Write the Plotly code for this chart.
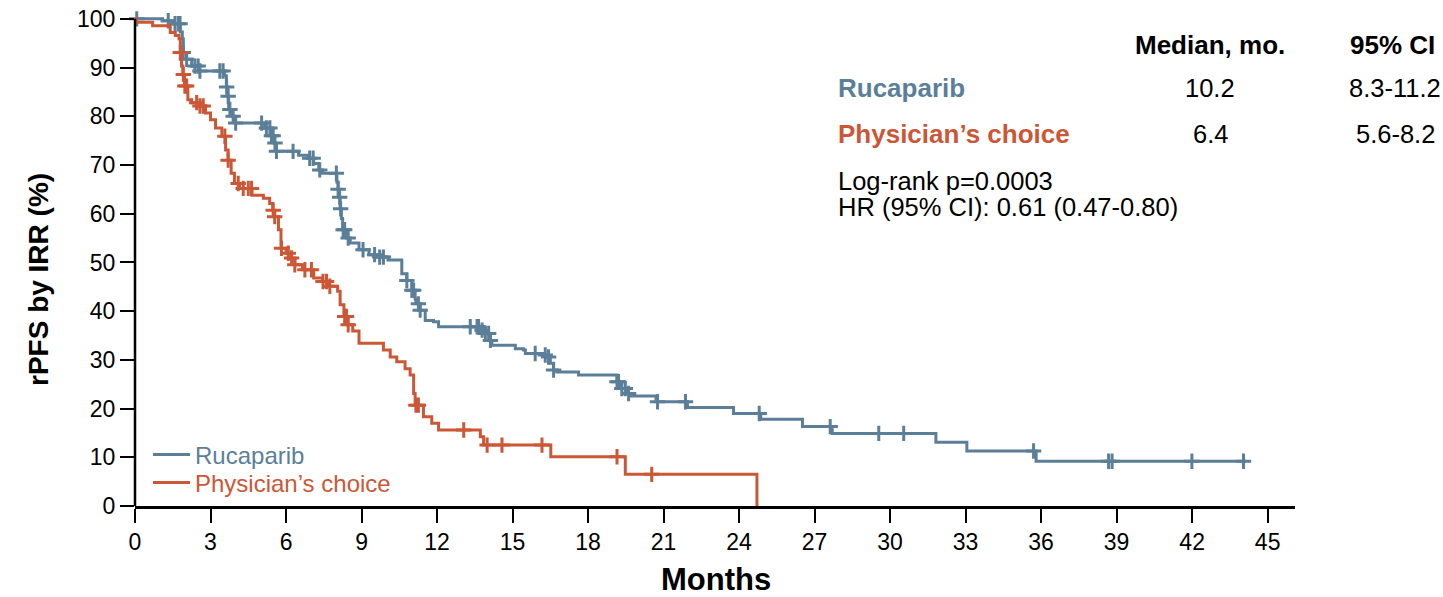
import numpy as np
import plotly.graph_objects as go

# ---------------- data ----------------
months_ticks = list(range(0, 46, 3))
pct_ticks = list(range(0, 101, 10))

# Rucaparib KM steps (time in months, survival % after step)
ruc_t = [0, 1.1, 1.45, 1.8, 1.88, 1.92, 2.05, 2.25, 2.55, 3.55, 3.63, 3.68, 3.72, 3.85, 3.97,
         5.15, 5.4, 5.5, 5.6, 6.5, 6.9, 7.1, 7.3, 7.45, 8.02, 8.07, 8.11, 8.15, 8.2, 8.25,
         8.4, 8.55, 8.9, 9.3, 9.6, 10.05, 10.6, 10.8, 11.0, 11.13, 11.16, 11.33, 11.53, 11.86,
         12.06, 13.72, 13.92, 14.12, 14.18, 15.11, 15.44, 15.51, 16.23, 16.43, 16.5, 16.63,
         16.76, 17.62, 19.15, 19.28, 19.54, 19.67, 20.7, 21.95, 23.78, 24.86, 26.52, 27.7,
         31.82, 33.05, 35.8]
ruc_s = [100, 99.6, 99.0, 97.3, 95.9, 93.1, 91.7, 90.3, 89.3, 88.3, 86.0, 84.1, 81.4, 80.0, 78.6,
         77.6, 76.0, 74.5, 72.8, 72.0, 71.4, 70.3, 69.0, 68.3, 66.5, 65.0, 63.4, 61.0, 59.0, 56.7,
         55.0, 54.0, 52.6, 51.6, 51.1, 50.5, 47.7, 46.3, 44.3, 42.5, 41.5, 40.2, 38.1, 37.8,
         36.8, 36.1, 35.4, 34.0, 33.0, 32.3, 32.0, 31.3, 31.0, 30.6, 29.3, 27.9,
         27.5, 26.9, 25.5, 24.1, 23.1, 22.6, 21.4, 20.2, 19.0, 17.8, 16.3, 14.9,
         13.1, 11.3, 9.2]
ruc_end = 44.14
ruc_cens = [0.07, 1.32, 1.59, 1.72, 1.79, 1.92, 2.05, 2.38, 2.51, 2.58, 3.37, 3.5, 3.64, 3.7,
            3.77, 3.9, 4.0, 5.03, 5.22, 5.36, 5.42, 5.49, 5.56, 5.62, 6.28, 6.94, 7.08, 7.34,
            8.0, 8.07, 8.13, 8.17, 8.27, 8.33, 8.47, 9.06, 9.52, 9.72, 9.87, 10.8, 11.0, 11.07,
            11.26, 11.33, 13.32, 13.59, 13.65, 13.79, 13.92, 14.05, 14.12, 15.9, 16.3, 16.43,
            16.63, 19.15, 19.21, 19.34, 19.48, 19.61, 20.76, 21.87, 24.8, 27.62, 29.55, 30.54,
            35.7, 38.68, 38.82, 41.99, 44.04]

# Physician's choice KM steps
phy_t = [0, 0.05, 0.7, 1.4, 1.6, 1.75, 1.8, 1.85, 1.9, 1.97, 2.1, 2.25, 2.5, 2.8, 3.0, 3.2,
         3.45, 3.6, 3.7, 3.82, 3.95, 4.15, 4.65, 5.1, 5.35, 5.47, 5.55, 5.7, 5.8, 6.0, 6.2,
         6.35, 6.65, 7.1, 7.45, 7.7, 8.05, 8.15, 8.3, 8.45, 8.65, 8.9, 9.87, 10.14, 10.4,
         10.73, 10.93, 11.07, 11.13, 11.46, 11.79, 12.06, 13.72, 13.85, 16.52, 19.48, 24.71]
phy_s = [100, 99.3, 98.6, 97.2, 96.6, 95.9, 93.1, 90.3, 88.6, 86.2, 83.4, 82.8, 82.1, 80.7, 79.3, 77.6,
         75.9, 73.1, 71.0, 68.3, 66.2, 65.2, 63.8, 63.2, 62.1, 60.7, 59.4, 56.7, 52.9, 51.9, 50.9,
         49.5, 48.5, 46.8, 46.1, 45.1, 44.1, 41.3, 38.9, 37.2, 35.9, 33.4, 32.0, 30.6, 29.6,
         28.2, 26.9, 23.1, 20.7, 18.3, 17.0, 15.6, 14.2, 12.5, 10.1, 6.5, 0]
phy_cens = [1.8, 1.92, 1.98, 2.05, 2.45, 2.58, 2.71, 3.57, 3.7, 4.1, 4.3, 4.5, 4.63, 5.49, 5.55,
            5.82, 6.09, 6.22, 6.35, 6.75, 7.01, 7.47, 7.61, 7.74, 8.33, 8.4, 8.47, 11.16, 11.26,
            13.06, 13.99, 14.58, 16.17, 19.15, 20.53]

arm_names = ["Rucaparib", "Physician\u2019s choice"]
medians = ["10.2", "6.4"]
cis = ["8.3-11.2", "5.6-8.2"]
stats_lines = ["Log-rank p=0.0003", "HR (95% CI): 0.61 (0.47-0.80)"]

BLUE = "#5b7f99"
RED = "#cc5736"
FONT = "Liberation Sans, Arial, sans-serif"


def surv_at(times, surv, t):
    times = np.asarray(times)
    idx = np.searchsorted(times, t, side="right") - 1
    return [surv[i] for i in idx]


# ---------------- geometry (page pixels; body margin removed via post_script) ----------------
FIG_W, FIG_H = 1443, 597
L, T = 135, 14
W, H = 1160, 492
R = FIG_W - L - W
B = FIG_H - T - H


def pxx(x):
    return (x - L) / W


def pxy(y):
    return (T + H - y) / H


fig = go.Figure()

for k, (name, t, s, end, cens, col) in enumerate([
    (arm_names[0], ruc_t, ruc_s, ruc_end, ruc_cens, BLUE),
    (arm_names[1], phy_t, phy_s, None, phy_cens, RED),
]):
    xs = list(t) + ([end] if end is not None else [])
    ys = list(s) + ([s[-1]] if end is not None else [])
    fig.add_trace(go.Scatter(
        x=xs, y=ys, mode="lines", line=dict(color=col, width=3, shape="hv"),
        name=f"<span style='color:{col}'>{name}</span>", showlegend=True,
        legend="legend" if k == 0 else "legend2",
    ))
    fig.add_trace(go.Scatter(
        x=cens, y=surv_at(t, s, np.array(cens)), mode="markers",
        marker=dict(symbol="cross-thin", size=11, color=col, line=dict(color=col, width=3)),
        showlegend=False, hoverinfo="skip", cliponaxis=False,
    ))

annotations = []
bold_font = lambda c="black": dict(family=FONT, size=26, color=c)
reg_font = dict(family=FONT, size=25.5, color="black")
annotations.append(dict(text="<b>Median, mo.</b>", x=pxx(1210), y=pxy(45), xanchor="center", font=bold_font()))
annotations.append(dict(text="<b>95% CI</b>", x=pxx(1393), y=pxy(45), xanchor="center", font=bold_font()))
for i, (nm, col, rowy) in enumerate([(arm_names[0], BLUE, 88), (arm_names[1], RED, 134)]):
    annotations.append(dict(text=f"<b>{nm}</b>", x=pxx(836), y=pxy(rowy), xanchor="left", font=bold_font(col)))
    annotations.append(dict(text=medians[i], x=pxx(1210), y=pxy(rowy), xanchor="center", font=reg_font))
    annotations.append(dict(text=cis[i], x=pxx(1395), y=pxy(rowy), xanchor="center", font=reg_font))
for j, line in enumerate(stats_lines):
    annotations.append(dict(text=line, x=pxx(836), y=pxy(181 + 26 * j), xanchor="left", font=reg_font))
annotations.append(dict(text="<b>Months</b>", x=pxx(716), y=pxy(579), xanchor="center",
                        font=dict(family=FONT, size=31, color="black")))
annotations.append(dict(text="<b>rPFS by IRR (%)</b>", x=pxx(38), y=pxy(280), textangle=-90,
                        xanchor="center", font=dict(family=FONT, size=28, color="black")))
for a in annotations:
    a.update(xref="paper", yref="paper", showarrow=False, yanchor="middle")

leg_common = dict(xanchor="left", yanchor="middle", font=dict(family=FONT, size=24),
                  bgcolor="rgba(0,0,0,0)", itemwidth=37, borderwidth=0)

fig.update_layout(
    width=FIG_W, height=FIG_H,
    margin=dict(l=L, r=R, t=T, b=B, autoexpand=False),
    plot_bgcolor="white", paper_bgcolor="white",
    font=dict(family=FONT, size=22, color="black"),
    annotations=annotations,
    legend=dict(x=pxx(148), y=pxy(455), **leg_common),
    legend2=dict(x=pxx(148), y=pxy(483), **leg_common),
    shapes=[dict(type="line", xref="paper", yref="y", x0=0, x1=0, y0=0, y1=100,
                 line=dict(color="black", width=2.5), layer="above")],
)
fig.update_xaxes(range=[0, W / 25.17], tickvals=months_ticks, ticks="outside", ticklen=14,
                 tickwidth=2, tickcolor="black", showline=True, linecolor="black", linewidth=2.5,
                 showgrid=False, zeroline=False, tickfont=dict(size=23), automargin=False,
                 ticklabeloverflow="allow")
fig.update_yaxes(range=[0, 101], tickvals=pct_ticks, ticks="outside", ticklen=14, tickwidth=2,
                 tickcolor="black", showline=False, showgrid=False, zeroline=False,
                 tickfont=dict(size=23), automargin=False, ticklabeloverflow="allow")

fig.write_html("out.html",
               config={"displayModeBar": False, "staticPlot": True},
               post_script="document.body.style.margin='0';document.body.style.overflow='hidden';")
